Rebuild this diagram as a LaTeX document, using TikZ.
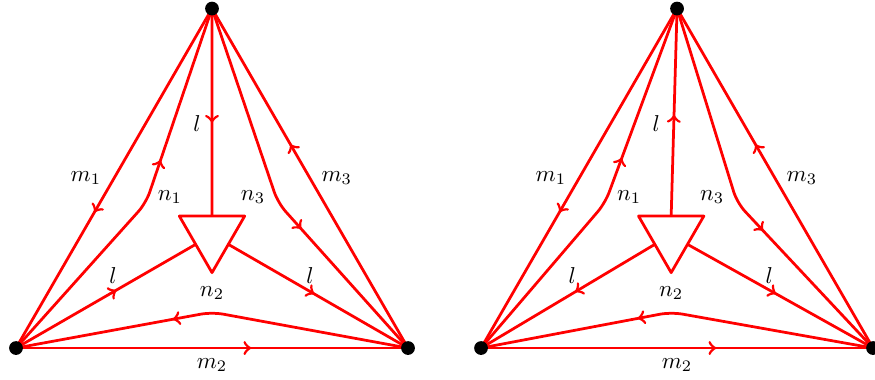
\documentclass[tikz,border=0pt]{standalone}
\usetikzlibrary{calc,decorations.markings,backgrounds}
\tikzset{
  line/.style={red,line width=1.2pt,line join=round},
  midarrow/.style 2 args={postaction={decorate},decoration={markings,
    mark=at position #1 with {\arrow[red,line width=1.2pt]{#2}}}},
  vertex/.style={circle,fill=black,inner sep=0pt,minimum size=6pt},
  lab/.style={inner sep=1pt}
}
\begin{document}
\begin{tikzpicture}
  \useasboundingbox (-0.245,-0.475) rectangle (13.148,5.327);
  \def\s{6}\def\h{5.196}
  % leg arrows: position/tip for the top, left and right leg
  \foreach \i/\dx/\sh/\pv/\tv/\pa/\ta/\pb/\tb in
      {1/0/0/0.55/>/0.56/>/0.56/<, 2/7.118/-0.09/0.55/</0.58/</0.56/<}{
  \begin{scope}[xshift=\dx cm]
    % outer vertices
    \node[vertex] (BL\i) at (0,0) {};
    \node[vertex] (BR\i) at (\s,0) {};
    \node[vertex] (T\i) at (\s/2,\h) {};
    % inner triangle
    \begin{scope}[xshift=\sh cm]
      \coordinate (A\i) at (2.5,2.02);
      \coordinate (B\i) at (3.5,2.02);
      \coordinate (C\i) at (3,1.154);
      \coordinate (P1\i) at (1.99,2.22);
      \coordinate (P2\i) at (3,0.55);
      \coordinate (P3\i) at (4.01,2.22);
    \end{scope}
    \coordinate (AB\i) at ($(A\i)!.5!(B\i)$);
    \coordinate (AC\i) at ($(A\i)!.5!(C\i)$);
    \coordinate (BC\i) at ($(B\i)!.5!(C\i)$);
    \begin{pgfonlayer}{background}
    \draw[line] (A\i)--(B\i)--(C\i)--cycle;
    % outer edges
    \draw[line,midarrow={0.6}{>}] (T\i.center)--(BL\i.center);
    \draw[line,midarrow={0.6}{>}] (BL\i.center)--(BR\i.center);
    \draw[line,midarrow={0.6}{>}] (BR\i.center)--(T\i.center);
    % bent edges
    \draw[line,rounded corners=5pt,midarrow={0.6}{>}] (BL\i.center)--(P1\i)--(T\i.center);
    \draw[line,rounded corners=5pt,midarrow={0.6}{>}] (BR\i.center)--(P2\i)--(BL\i.center);
    \draw[line,rounded corners=5pt,midarrow={0.6}{>}] (T\i.center)--(P3\i)--(BR\i.center);
    % legs to the inner triangle
    \draw[line,midarrow={\pv}{\tv}] (T\i.center)--(AB\i);
    \draw[line,midarrow={\pa}{\ta}] (BL\i.center)--(AC\i);
    \draw[line,midarrow={\pb}{\tb}] (BR\i.center)--(BC\i);
    \end{pgfonlayer}
    % labels
    \node[lab] (m1\i) at (1.07,2.60) {$m_1$};
    \node[lab] (m3\i) at (4.91,2.60) {$m_3$};
    \node[lab] (m2\i) at (3,-0.26) {$m_2$};
    \begin{scope}[xshift=\sh cm]
      \node[lab] (lt\i) at (2.77,3.44) {$l$};
      \node[lab] (ll\i) at (1.485,1.117) {$l$};
      \node[lab] (lr\i) at (4.5,1.117) {$l$};
      \node[lab] (n1\i) at (2.357,2.311) {$n_1$};
      \node[lab] (n3\i) at (3.628,2.311) {$n_3$};
      \node[lab] (n2\i) at (3,0.842) {$n_2$};
    \end{scope}
  \end{scope}}
\end{tikzpicture}
\end{document}
